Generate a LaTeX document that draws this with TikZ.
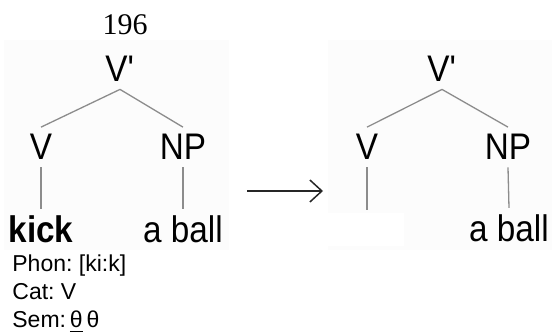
\documentclass[tikz,border=0pt]{standalone}
\usepackage{fontspec}
\setmainfont{Liberation Sans}
\newfontfamily\treefont[FakeStretch=0.9]{Liberation Sans}
\newfontfamily\pagefont{Liberation Serif}
\usetikzlibrary{arrows.meta}
\frenchspacing

\tikzset{
  cat/.style={inner sep=3.5pt, anchor=base, font=\treefont\fontsize{18.5}{22}\selectfont},
  word/.style={inner sep=3.5pt, anchor=base, font=\treefont\fontsize{18.5}{22}\selectfont},
  feat/.style={inner sep=0pt, anchor=base west, font=\fontsize{11.5}{14}\selectfont},
  branch/.style={draw=black!45, line width=0.65pt},
  panel/.style={fill=black!1, draw=none}
}

\begin{document}
\begin{tikzpicture}[x=0.5pt,y=-0.5pt,>={Straight Barb[length=6pt,width=11pt]}]
\useasboundingbox (0,0) rectangle (552,336);

% faint panels behind the trees
\fill[panel] (4,40) rectangle (229,250);
\fill[panel] (328,40) rectangle (552,250);
\fill[white] (328,213) rectangle (404,246);

\node[anchor=base, inner sep=0pt, font=\pagefont\fontsize{15}{18}\selectfont] (page) at (125,35) {196};

% left tree
\node[cat] (vbarL) at (120,82) {V\textquotesingle};
\node[cat] (vL) at (41,160) {V};
\node[cat] (npL) at (183,160) {NP};
\node[word, font=\treefont\bfseries\fontsize{18.5}{22}\selectfont] (kick) at (41,243) {kick};
\node[word] (ballL) at (183,243) {a ball};

\draw[branch] (vbarL.south) -- (vL.north);
\draw[branch] (vbarL.south) -- (npL.north);
\draw[branch] (vL.south) -- (kick.north);
\draw[branch] (npL.south) -- (ballL.north);

\node[feat] (phon) at (12,272) {Phon: [ki:k]};
\node[feat] (catv) at (12,300) {Cat: V};
\node[feat] (sem) at (12,328) {Sem:\,\underline{θ}\,θ};

% arrow
\coordinate (arrowA) at (247,191);
\coordinate (arrowB) at (323,191);
\draw[->, line width=0.75pt, black!85] (arrowA) -- (arrowB);

% right tree
\node[cat] (vbarR) at (442,82) {V\textquotesingle};
\node[cat] (vR) at (367,160) {V};
\node[cat] (npR) at (508,160) {NP};
\node[word] (ballR) at (509,242) {a ball};
\coordinate (gapR) at (367,210);

\draw[branch] (vbarR.south) -- (vR.north);
\draw[branch] (vbarR.south) -- (npR.north);
\draw[branch] (vR.south) -- (gapR);
\draw[branch] (npR.south) -- (ballR.north);
\end{tikzpicture}
\end{document}
